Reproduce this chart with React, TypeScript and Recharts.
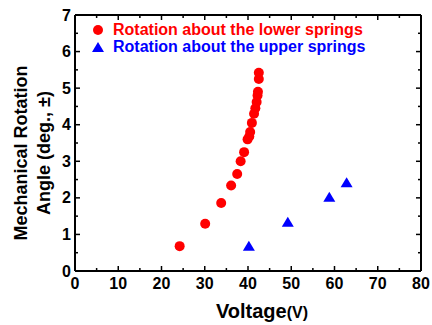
import { ScatterChart, Scatter, XAxis, YAxis, Legend } from 'recharts'

const lowerVoltage = [24.2, 30.1, 33.8, 36.1, 37.5, 38.3, 39.1, 39.9, 40.3, 40.5, 40.9, 41.4, 41.7, 42.0, 42.2, 42.3, 42.5, 42.5]
const lowerAngle = [0.68, 1.29, 1.86, 2.34, 2.65, 3.0, 3.25, 3.6, 3.68, 3.8, 4.05, 4.3, 4.45, 4.62, 4.8, 4.9, 5.25, 5.42]
const upperVoltage = [40.2, 49.2, 58.8, 62.8]
const upperAngle = [0.66, 1.32, 2.0, 2.4]

const xTicks = [0, 5, 10, 15, 20, 25, 30, 35, 40, 45, 50, 55, 60, 65, 70, 75, 80]
const yTicks = [0, 0.5, 1, 1.5, 2, 2.5, 3, 3.5, 4, 4.5, 5, 5.5, 6, 6.5, 7]

const lowerData = lowerVoltage.map((v, i) => ({ x: v, y: lowerAngle[i] }))
const upperData = upperVoltage.map((v, i) => ({ x: v, y: upperAngle[i] }))

const FONT = '"Liberation Sans", Arial, sans-serif'
const RED = '#FF0000'
const BLUE = '#0000FF'

const isMajorX = (v: number) => v % 10 === 0
const isMajorY = (v: number) => v % 1 === 0

const LeftTick = ({ x, y, payload }: any) => {
  const major = isMajorY(payload.value)
  return (
    <g>
      <line x1={x} x2={x + (major ? 5 : 3)} y1={y} y2={y} stroke="#000" strokeWidth={1.5} />
      {major && (
        <text x={x - 4} y={y} dy={5.5} textAnchor="end" fontFamily={FONT} fontWeight="bold" fontSize={16} fill="#000">
          {payload.value}
        </text>
      )}
    </g>
  )
}

const RightTick = ({ x, y, payload }: any) => {
  const major = isMajorY(payload.value)
  return <line x1={x} x2={x - (major ? 5 : 3)} y1={y} y2={y} stroke="#000" strokeWidth={1.5} />
}

const BottomTick = ({ x, y, payload }: any) => {
  const major = isMajorX(payload.value)
  return (
    <g>
      <line x1={x} x2={x} y1={y} y2={y - (major ? 5 : 3)} stroke="#000" strokeWidth={1.5} />
      {major && (
        <text x={x} y={y + 18} textAnchor="middle" fontFamily={FONT} fontWeight="bold" fontSize={16} fill="#000">
          {payload.value}
        </text>
      )}
    </g>
  )
}

const TopTick = ({ x, y, payload }: any) => {
  const major = isMajorX(payload.value)
  return <line x1={x} x2={x} y1={y} y2={y + (major ? 5 : 3)} stroke="#000" strokeWidth={1.5} />
}

const Dot = ({ cx, cy }: any) => <circle cx={cx} cy={cy} r={5} fill={RED} />

const Triangle = ({ cx, cy }: any) => (
  <polygon points={`${cx - 6},${cy + 4} ${cx + 6},${cy + 4} ${cx},${cy - 6}`} fill={BLUE} />
)

const YLabel = () => (
  <g fontFamily={FONT} fontWeight="bold" fontSize={18} fill="#000">
    <text x={27} y={153} transform="rotate(-90 27 153)" textAnchor="middle">
      Mechanical Rotation
    </text>
    <text x={50} y={153} transform="rotate(-90 50 153)" textAnchor="middle">
      Angle (deg., ±)
    </text>
  </g>
)

const XLabel = () => (
  <text x={262} y={318} textAnchor="middle" fontFamily={FONT} fontWeight="bold" fill="#000">
    <tspan fontSize={20}>Voltage</tspan>
    <tspan fontSize={16}>(V)</tspan>
  </text>
)

const LegendBox = () => (
  <svg width={290} height={42}>
    <g fontFamily={FONT} fontWeight="bold" fontSize={16}>
      <circle cx={10} cy={12} r={5} fill={RED} />
      <text x={25} y={17} fill={RED}>Rotation about the lower springs</text>
      <polygon points="4,34 16,34 10,24" fill={BLUE} />
      <text x={25} y={34} fill={BLUE}>Rotation about the upper springs</text>
    </g>
  </svg>
)

export default function App() {
  return (
    <div style={{ position: 'absolute', left: 0, top: 0, background: '#fff' }}>
      <ScatterChart width={432} height={325} margin={{ top: 14, right: 10, bottom: 0, left: 0 }}>
        <XAxis
          type="number"
          dataKey="x"
          domain={[0, 80]}
          ticks={xTicks}
          interval={0}
          height={54}
          tickSize={0}
          tickMargin={0}
          tickLine={false}
          tick={<BottomTick />}
          axisLine={{ stroke: '#000', strokeWidth: 2 }}
          label={<XLabel />}
        />
        <XAxis
          xAxisId="top"
          orientation="top"
          type="number"
          dataKey="x"
          domain={[0, 80]}
          ticks={xTicks}
          interval={0}
          height={1}
          tickSize={0}
          tickMargin={0}
          tickLine={false}
          tick={<TopTick />}
          axisLine={{ stroke: '#000', strokeWidth: 2 }}
        />
        <YAxis
          type="number"
          dataKey="y"
          domain={[0, 7]}
          ticks={yTicks}
          interval={0}
          width={75}
          tickSize={0}
          tickMargin={0}
          tickLine={false}
          tick={<LeftTick />}
          axisLine={{ stroke: '#000', strokeWidth: 2 }}
          label={<YLabel />}
        />
        <YAxis
          yAxisId="right"
          orientation="right"
          type="number"
          dataKey="y"
          domain={[0, 7]}
          ticks={yTicks}
          interval={0}
          width={1}
          tickSize={0}
          tickMargin={0}
          tickLine={false}
          tick={<RightTick />}
          axisLine={{ stroke: '#000', strokeWidth: 2 }}
        />
        <Legend
          layout="vertical"
          align="center"
          verticalAlign="middle"
          wrapperStyle={{ left: 88, top: 18, width: 290 }}
          content={<LegendBox />}
        />
        <Scatter name="Rotation about the lower springs" data={lowerData} shape={<Dot />} isAnimationActive={false} />
        <Scatter
          name="Rotation about the upper springs"
          data={upperData}
          xAxisId="top"
          yAxisId="right"
          shape={<Triangle />}
          isAnimationActive={false}
        />
      </ScatterChart>
    </div>
  )
}
